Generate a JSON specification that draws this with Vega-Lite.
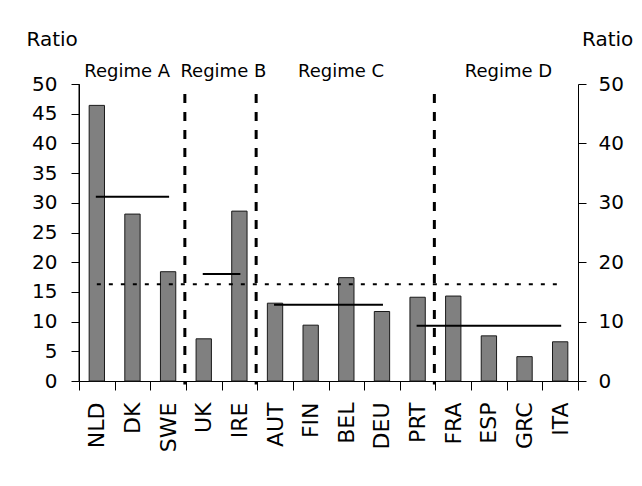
{
  "$schema": "https://vega.github.io/schema/vega-lite/v6.json",
  "width": 499,
  "height": 297,
  "autosize": {"type": "none"},
  "padding": {"left": 79, "top": 84, "right": 64, "bottom": 105},
  "background": "white",
  "config": {
    "font": "DejaVu Sans",
    "view": {"stroke": null},
    "axis": {
      "grid": false,
      "domain": true,
      "domainColor": "black",
      "tickColor": "black",
      "labelColor": "black",
      "titleColor": "black",
      "titleFontWeight": "normal"
    }
  },
  "datasets": {
    "bars": [
      {"country": "NLD", "ratio": 46.4},
      {"country": "DK", "ratio": 28.1},
      {"country": "SWE", "ratio": 18.4},
      {"country": "UK", "ratio": 7.1},
      {"country": "IRE", "ratio": 28.6},
      {"country": "AUT", "ratio": 13.1},
      {"country": "FIN", "ratio": 9.4},
      {"country": "BEL", "ratio": 17.4},
      {"country": "DEU", "ratio": 11.7},
      {"country": "PRT", "ratio": 14.1},
      {"country": "FRA", "ratio": 14.3},
      {"country": "ESP", "ratio": 7.6},
      {"country": "GRC", "ratio": 4.1},
      {"country": "ITA", "ratio": 6.6}
    ],
    "overall": [
      {"first": "NLD", "last": "ITA", "average": 16.3}
    ],
    "regimes": [
      {"regime": "Regime A", "first": "NLD", "last": "SWE", "average": 31.0},
      {"regime": "Regime B", "first": "UK", "last": "IRE", "average": 18.0},
      {"regime": "Regime C", "first": "AUT", "last": "DEU", "average": 12.85},
      {"regime": "Regime D", "first": "PRT", "last": "ITA", "average": 9.3}
    ],
    "breaks": [
      {"after": "SWE"},
      {"after": "IRE"},
      {"after": "PRT"}
    ],
    "edge": [
      {"country": "NLD"}
    ],
    "labels": [
      {"label": "Regime A", "country": "DK", "group": "a"},
      {"label": "Regime B", "country": "IRE", "group": "b"},
      {"label": "Regime C", "country": "BEL", "group": "a"},
      {"label": "Regime D", "country": "GRC", "group": "b"}
    ]
  },
  "layer": [
    {
      "data": {"name": "bars"},
      "mark": {"type": "bar", "fill": "#808080", "stroke": "#1a1a1a", "strokeWidth": 1, "width": {"band": 0.43}},
      "encoding": {
        "x": {
          "field": "country",
          "type": "nominal",
          "scale": {
            "domain": ["NLD", "DK", "SWE", "UK", "IRE", "AUT", "FIN", "BEL", "DEU", "PRT", "FRA", "ESP", "GRC", "ITA"],
            "paddingInner": 0,
            "paddingOuter": 0
          },
          "axis": {
            "title": null,
            "labelAngle": -90,
            "labelFontSize": 22,
            "tickBand": "extent",
            "tickSize": 9,
            "labelPadding": 12
          }
        },
        "y": {
          "field": "ratio",
          "type": "quantitative",
          "scale": {"domain": [0, 50], "nice": false},
          "axis": {
            "orient": "left",
            "values": [0, 5, 10, 15, 20, 25, 30, 35, 40, 45, 50],
            "title": "Ratio",
            "titleAngle": 0,
            "titleAlign": "left",
            "titleBaseline": "alphabetic",
            "titleX": -53,
            "titleY": -38.5,
            "titleFontSize": 20,
            "labelFontSize": 20,
            "tickSize": 8,
            "labelPadding": 14
          }
        }
      }
    },
    {
      "data": {"name": "edge"},
      "mark": {"type": "rule", "color": "black", "strokeWidth": 1},
      "encoding": {
        "x": {"field": "country", "type": "nominal", "bandPosition": 0, "axis": null},
        "y": {"datum": 0, "type": "quantitative", "axis": null},
        "y2": {"datum": 50}
      }
    },
    {
      "data": {"name": "overall"},
      "mark": {"type": "rule", "color": "black", "strokeWidth": 2, "strokeDash": [4, 8]},
      "encoding": {
        "x": {"field": "first", "type": "nominal", "axis": null},
        "x2": {"field": "last"},
        "y": {
          "field": "average",
          "type": "quantitative",
          "axis": {
            "orient": "right",
            "values": [0, 10, 20, 30, 40, 50],
            "title": "Ratio",
            "titleAngle": 0,
            "titleAlign": "left",
            "titleBaseline": "alphabetic",
            "titleX": 3.5,
            "titleY": -38.5,
            "titleFontSize": 20,
            "labelFontSize": 20,
            "tickSize": 8,
            "labelPadding": 12
          }
        }
      }
    },
    {
      "data": {"name": "regimes"},
      "mark": {"type": "rule", "color": "black", "strokeWidth": 2, "strokeCap": "square"},
      "encoding": {
        "x": {"field": "first", "type": "nominal", "axis": null},
        "x2": {"field": "last"},
        "y": {"field": "average", "type": "quantitative", "axis": null}
      }
    },
    {
      "data": {"name": "breaks"},
      "mark": {"type": "rule", "color": "black", "strokeWidth": 3, "strokeDash": [9, 9]},
      "encoding": {
        "x": {"field": "after", "type": "nominal", "bandPosition": 0.97, "axis": null},
        "y": {"datum": 48.3, "type": "quantitative", "axis": null},
        "y2": {"datum": -0.6}
      }
    },
    {
      "data": {"name": "labels"},
      "transform": [{"filter": "datum.group == 'a'"}],
      "mark": {"type": "text", "fontSize": 18, "color": "black", "align": "center", "baseline": "alphabetic"},
      "encoding": {
        "x": {"field": "country", "type": "nominal", "bandPosition": 0.35, "axis": null},
        "y": {"datum": 51.2, "type": "quantitative", "axis": null},
        "text": {"field": "label"}
      }
    },
    {
      "data": {"name": "labels"},
      "transform": [{"filter": "datum.group == 'b'"}],
      "mark": {"type": "text", "fontSize": 18, "color": "black", "align": "center", "baseline": "alphabetic"},
      "encoding": {
        "x": {"field": "country", "type": "nominal", "bandPosition": 0.05, "axis": null},
        "y": {"datum": 51.2, "type": "quantitative", "axis": null},
        "text": {"field": "label"}
      }
    }
  ],
  "resolve": {"axis": {"x": "independent", "y": "independent"}}
}
